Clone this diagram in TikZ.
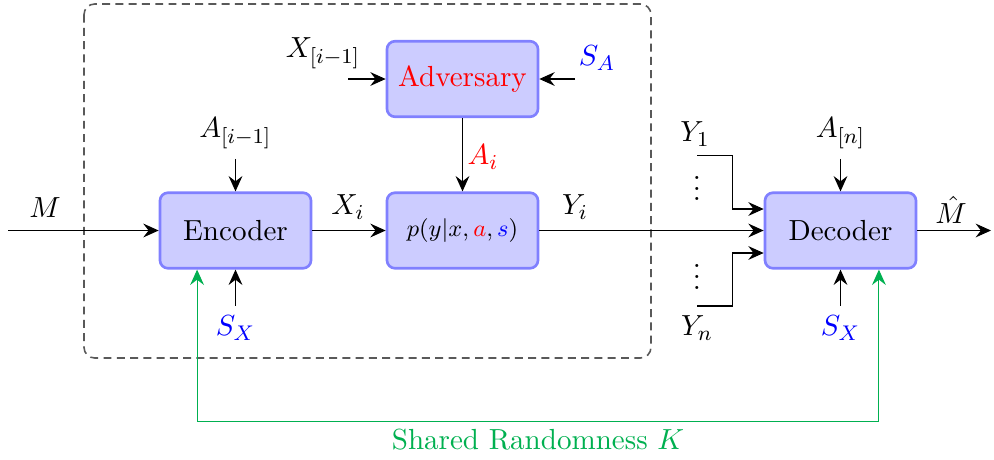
\documentclass[tikz,border=0pt,11pt]{standalone}
\usetikzlibrary{arrows.meta,calc}
\definecolor{sgreen}{RGB}{0,176,80}
\newcommand{\tightvdots}{\vbox{\baselineskip4pt\lineskiplimit0pt\hbox{.}\hbox{.}\hbox{.}}}
\begin{document}
\begin{tikzpicture}[x=0.013245cm,y=-0.013245cm,
  blk/.style={draw=blue!50,fill=blue!20,line width=1pt,rounded corners=3pt,
    minimum width=2cm,minimum height=1cm,inner sep=2pt},
  tip/.style={},
  arr/.style={-{Stealth[length=5.8pt,width=5.2pt,inset=2pt]}},
  garr/.style={sgreen,{Stealth[length=5.8pt,width=5.2pt,inset=2pt]}-{Stealth[length=5.8pt,width=5.2pt,inset=2pt]}},
  frame/.style={black!65,line width=0.6pt,dash pattern=on 3pt off 2pt,rounded corners=4pt}]
\useasboundingbox (0,0) rectangle (994,459);
% dashed frame
\draw[frame] (84,4) rectangle (651,358);
% blocks
\node[blk] (enc) at (235.5,230.5) {Encoder};
\node[blk] (chan) at (462.5,230.5) {\fontsize{9.5}{11}\selectfont $p(y|x,{\color{red}a},{\color{blue}s})$};
\node[blk] (adv) at (462.5,79) {\textcolor{red}{Adversary}};
\node[blk] (dec) at (840.5,230.5) {Decoder};
% labels
\node (Ml) at (45,208) {$M$};
\node (Ain) at (235.5,133) {$A_{[i-1]}$};
\node[text=blue] (sx1) at (235.5,328) {$S_X$};
\node (Xil) at (348,207) {$X_i$};
\node (Yil) at (575,207) {$Y_i$};
\node (Xprev) at (323,53) {$X_{[i-1]}$};
\node[text=blue] (SA) at (597,58) {$S_A$};
\node[text=red] (Ail) at (483,157) {$A_i$};
\node (Y1) at (695,134) {$Y_1$};
\node[inner sep=1pt] (vd1) at (697,188.5) {\tightvdots};
\node[inner sep=1pt] (vd2) at (697,277) {\tightvdots};
\node (Yn) at (697,328) {$Y_n$};
\node (An) at (840.5,133) {$A_{[n]}$};
\node[text=blue] (sx2) at (840.5,328) {$S_X$};
\node[inner sep=1pt] (Mh) at (951,210) {$\hat{M}$};
\node[text=sgreen] (srk) at (538,440) {Shared Randomness $K$};
% free ends
\coordinate (Ms) at (8,230.5);
\coordinate (Me) at (991,230.5);
\coordinate (xs) at (348,79);
\coordinate (sas) at (575,79);
\coordinate (y1s) at (697,155.5);
\coordinate (yns) at (697,306);
% connectors
\draw[arr] (Ms) -- (enc);
\draw[arr] (Ain) -- (enc);
\draw[arr] (sx1) -- (enc);
\draw[arr] (enc) -- (chan);
\draw[arr] (adv) -- (chan);
\draw[arr] (chan) -- (dec);
\draw[arr] (xs) -- (adv);
\draw[arr] (sas) -- (adv);
\draw[arr] (y1s) -| ($(dec.west)+(-31,-21.5)$) -- ($(dec.west)+(0,-21.5)$);
\draw[arr] (yns) -| ($(dec.west)+(-31,22.5)$) -- ($(dec.west)+(0,22.5)$);
\draw[arr] (An) -- (dec);
\draw[arr] (sx2) -- (dec);
\draw[arr] (dec) -- (Me);
\coordinate (ge) at ($(enc.south west)!0.25!(enc.south east)$);
\coordinate (gd) at ($(dec.south west)!0.75!(dec.south east)$);
\draw[garr] (ge) -- ++(0,152) -| (gd);
\end{tikzpicture}
\end{document}
